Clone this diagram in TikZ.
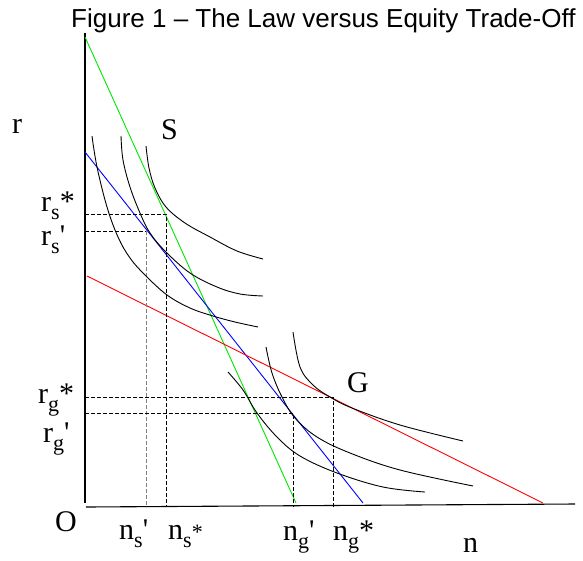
\documentclass[tikz,border=0pt]{standalone}
\usepackage{fontspec}
\setmainfont{Liberation Serif}
\newfontfamily\titlefont{Liberation Sans}
\newcommand{\mysub}[1]{\raisebox{-8pt}{\fontsize{22}{22}\selectfont #1}}
\newcommand{\myprime}{\textquotesingle}
\begin{document}
\begin{tikzpicture}[x=1pt,y=-1pt,
  lab/.style={anchor=base west,inner sep=0pt,font=\fontsize{30}{30}\selectfont},
  axis/.style={line width=1.1pt,black},
  icurve/.style={line width=0.9pt,black},
  guide/.style={line width=0.8pt,dash pattern=on 3.5pt off 2.5pt},
  budget/.style={line width=0.9pt}]
\useasboundingbox (0,0) rectangle (583,560);
% title
\node[anchor=base west,inner sep=0pt,font=\titlefont\fontsize{26}{26}\selectfont] (title) at (71,27) {Figure 1 – The Law versus Equity Trade-Off};
% axes
\coordinate (ytop) at (85,33);
\coordinate (ybot) at (85,503);
\coordinate (xl) at (86,507);
\coordinate (xr) at (575,504);
\draw[axis] (ytop) -- (ybot);
\draw[axis] (xl) -- (xr);
% budget lines
\coordinate (g0) at (85,37);  \coordinate (g1) at (296,503);
\coordinate (b0) at (85,152); \coordinate (b1) at (363,503);
\coordinate (r0) at (87,276); \coordinate (r1) at (543,503);
\draw[budget,color={rgb,255:red,0;green,230;blue,0}] (g0) -- (g1);
\draw[budget,blue] (b0) -- (b1);
\draw[budget,red] (r0) -- (r1);
% equilibrium points and guides
\coordinate (S) at (166,214);
\coordinate (Sp) at (146,231);
\coordinate (G) at (333,397);
\coordinate (Gp) at (293,413);
\draw[guide] (85,214) -- (S) -- (166,507);
\draw[guide] (85,231) -- (Sp);
\draw[guide,gray] (Sp) -- (146,507);
\draw[guide] (85,397) -- (G) -- (333,507);
\draw[guide] (85,413) -- (Gp) -- (293,507);
% indifference curves S family
\draw[icurve] plot[smooth,tension=0.6] coordinates {(146,146) (149,168) (155,188) (166,207) (185,223) (210,237) (237,251) (263,259)};
\draw[icurve] plot[smooth,tension=0.6] coordinates {(121,136) (123,160) (130,187) (140,213) (150,233) (166,252) (190,273) (217,287) (240,294) (263,296)};
\draw[icurve] plot[smooth,tension=0.6] coordinates {(92,136) (97,167) (107,207) (118,237) (130,258) (145,275) (167,295) (190,308) (213,316) (235,322) (258,327)};
% indifference curves G family
\draw[icurve] plot[smooth,tension=0.6] coordinates {(293,332) (300,367) (313,385) (330,397) (352,408) (400,425) (463,441)};
\draw[icurve] plot[smooth,tension=0.6] coordinates {(266,347) (272,373) (282,397) (295,418) (317,437) (350,453) (400,470) (473,486)};
\draw[icurve] plot[smooth,tension=0.6] coordinates {(228,372) (243,390) (257,413) (277,437) (300,456) (337,473) (383,487) (425,492)};
% labels
\node[lab] (lr) at (12,133) {r};
\node[lab] (lS) at (161,139) {S};
\node[lab] (lG) at (347,392) {G};
\node[lab] (lO) at (55,531) {O};
\node[lab] (ln) at (463,552) {n};
\node[lab] (lrs) at (41,211) {r\mysub{s}*};
\node[lab] (lrsp) at (41,245) {r\mysub{s}\myprime};
\node[lab] (lrg) at (38,403) {r\mysub{g}*};
\node[lab] (lrgp) at (43,442) {r\mysub{g}\myprime};
\node[lab] (lnsp) at (119,539) {n\mysub{s}\myprime};
\node[lab] (lns) at (168,539) {n\mysub{s}{\fontsize{22}{22}\selectfont *}};
\node[lab] (lngp) at (283,540) {n\mysub{g}\myprime};
\node[lab] (lng) at (333,540) {n\mysub{g}*};
\end{tikzpicture}
\end{document}
